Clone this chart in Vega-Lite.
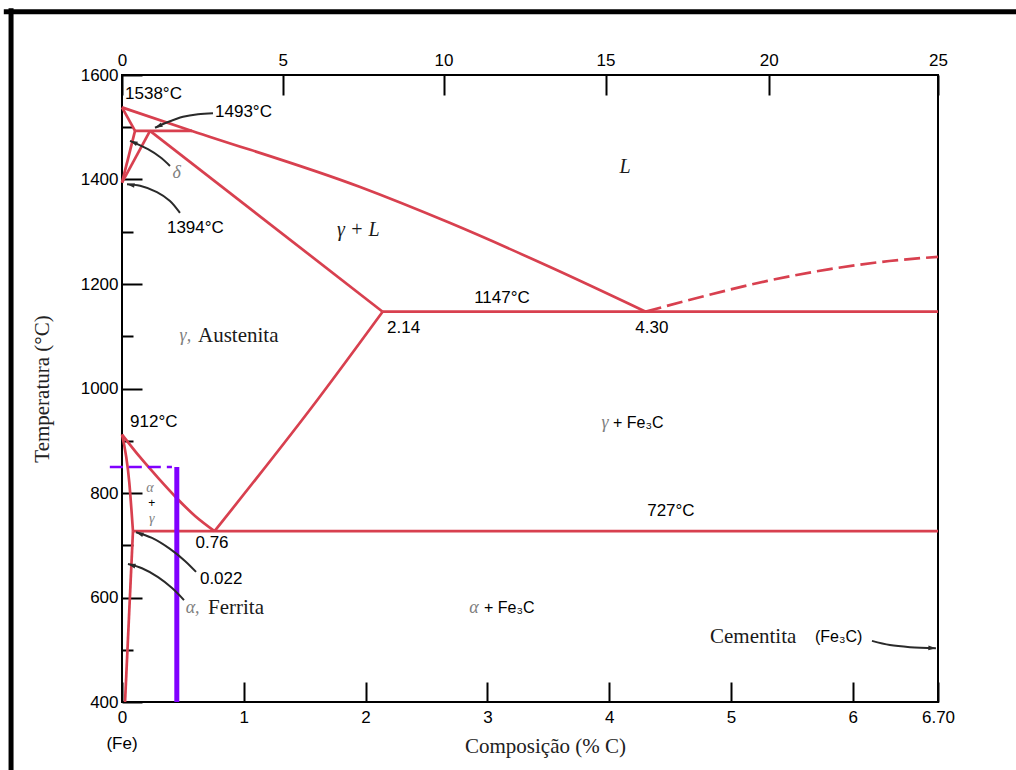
{
  "$schema": "https://vega.github.io/schema/vega-lite/v6.json",
  "width": 816,
  "height": 627,
  "autosize": {"type": "none"},
  "padding": {"left": 122, "top": 75, "right": 78, "bottom": 68},
  "background": "white",
  "config": {
    "view": {"stroke": "black", "strokeWidth": 2},
    "axis": {"grid": false, "domain": false, "tickColor": "black", "tickWidth": 2, "labelFont": "Liberation Sans", "labelFontSize": 17, "labelColor": "black", "labelFlush": false, "labelOverlap": false, "titleFont": "Liberation Serif", "titleFontSize": 21, "titleFontWeight": "normal", "titleColor": "#222"}
  },
  "datasets": {
    "boundaries": [
      {"seg": "liquidus", "i": 0, "x": 0, "T": 1538},
      {"seg": "liquidus", "i": 1, "x": 0.575, "T": 1493},
      {"seg": "liquidus", "i": 2, "x": 1.95, "T": 1386},
      {"seg": "liquidus", "i": 3, "x": 2.69, "T": 1317},
      {"seg": "liquidus", "i": 4, "x": 3.51, "T": 1233},
      {"seg": "liquidus", "i": 5, "x": 4.30, "T": 1147},
      {"seg": "delta_liq", "i": 0, "x": 0, "T": 1538},
      {"seg": "delta_liq", "i": 1, "x": 0.107, "T": 1493},
      {"seg": "delta_gamma", "i": 0, "x": 0, "T": 1394},
      {"seg": "delta_gamma", "i": 1, "x": 0.107, "T": 1493},
      {"seg": "gamma_delta", "i": 0, "x": 0, "T": 1394},
      {"seg": "gamma_delta", "i": 1, "x": 0.23, "T": 1493},
      {"seg": "peritectic", "i": 0, "x": 0.107, "T": 1493},
      {"seg": "peritectic", "i": 1, "x": 0.575, "T": 1493},
      {"seg": "solidus", "i": 0, "x": 0.23, "T": 1493},
      {"seg": "solidus", "i": 1, "x": 2.14, "T": 1147},
      {"seg": "acm", "i": 0, "x": 0.76, "T": 727},
      {"seg": "acm", "i": 1, "x": 1.61, "T": 980},
      {"seg": "acm", "i": 2, "x": 2.14, "T": 1147},
      {"seg": "a3", "i": 0, "x": 0, "T": 912},
      {"seg": "a3", "i": 1, "x": 0.15, "T": 868},
      {"seg": "a3", "i": 2, "x": 0.30, "T": 828},
      {"seg": "a3", "i": 3, "x": 0.45, "T": 790},
      {"seg": "a3", "i": 4, "x": 0.60, "T": 756},
      {"seg": "a3", "i": 5, "x": 0.76, "T": 727},
      {"seg": "alpha", "i": 0, "x": 0, "T": 912},
      {"seg": "alpha", "i": 1, "x": 0.06, "T": 820},
      {"seg": "alpha", "i": 2, "x": 0.09, "T": 727},
      {"seg": "solvus", "i": 0, "x": 0.025, "T": 400},
      {"seg": "solvus", "i": 1, "x": 0.09, "T": 727},
      {"seg": "eutectoid", "i": 0, "x": 0.09, "T": 727},
      {"seg": "eutectoid", "i": 1, "x": 6.70, "T": 727},
      {"seg": "eutectic", "i": 0, "x": 2.14, "T": 1147},
      {"seg": "eutectic", "i": 1, "x": 6.70, "T": 1147}
    ],
    "cementite_liquidus": [
      {"i": 0, "x": 4.30, "T": 1147},
      {"i": 1, "x": 4.8, "T": 1178},
      {"i": 2, "x": 5.3, "T": 1206},
      {"i": 3, "x": 5.8, "T": 1228},
      {"i": 4, "x": 6.3, "T": 1244},
      {"i": 5, "x": 6.70, "T": 1252}
    ],
    "alloy_vertical": [
      {"i": 0, "x": 0.45, "T": 400},
      {"i": 1, "x": 0.45, "T": 850}
    ],
    "alloy_temp": [
      {"i": 0, "x": -0.10, "T": 850},
      {"i": 1, "x": 0.41, "T": 850}
    ],
    "arrows": [
      {"arrow": "a1493", "i": 0, "x": 0.747, "T": 1527},
      {"arrow": "a1493", "i": 1, "x": 0.624, "T": 1525},
      {"arrow": "a1493", "i": 2, "x": 0.501, "T": 1520},
      {"arrow": "a1493", "i": 3, "x": 0.378, "T": 1510},
      {"arrow": "a1493", "i": 4, "x": 0.271, "T": 1499},
      {"arrow": "adelta", "i": 0, "x": 0.394, "T": 1426},
      {"arrow": "adelta", "i": 1, "x": 0.312, "T": 1443},
      {"arrow": "adelta", "i": 2, "x": 0.213, "T": 1458},
      {"arrow": "adelta", "i": 3, "x": 0.066, "T": 1474},
      {"arrow": "a1394", "i": 0, "x": 0.476, "T": 1336},
      {"arrow": "a1394", "i": 1, "x": 0.394, "T": 1359},
      {"arrow": "a1394", "i": 2, "x": 0.287, "T": 1376},
      {"arrow": "a1394", "i": 3, "x": 0.148, "T": 1388},
      {"arrow": "a1394", "i": 4, "x": 0.041, "T": 1391},
      {"arrow": "a0022", "i": 0, "x": 0.608, "T": 649},
      {"arrow": "a0022", "i": 1, "x": 0.517, "T": 670},
      {"arrow": "a0022", "i": 2, "x": 0.394, "T": 693},
      {"arrow": "a0022", "i": 3, "x": 0.246, "T": 714},
      {"arrow": "a0022", "i": 4, "x": 0.115, "T": 725},
      {"arrow": "aferrita", "i": 0, "x": 0.509, "T": 595},
      {"arrow": "aferrita", "i": 1, "x": 0.411, "T": 618},
      {"arrow": "aferrita", "i": 2, "x": 0.296, "T": 639},
      {"arrow": "aferrita", "i": 3, "x": 0.164, "T": 656},
      {"arrow": "aferrita", "i": 4, "x": 0.049, "T": 664},
      {"arrow": "acem", "i": 0, "x": 6.158, "T": 517},
      {"arrow": "acem", "i": 1, "x": 6.305, "T": 509},
      {"arrow": "acem", "i": 2, "x": 6.470, "T": 505},
      {"arrow": "acem", "i": 3, "x": 6.683, "T": 503}
    ],
    "heads": [
      {"arrow": "a1493", "x": 0.271, "T": 1499},
      {"arrow": "adelta", "x": 0.066, "T": 1474},
      {"arrow": "a1394", "x": 0.041, "T": 1391},
      {"arrow": "a0022", "x": 0.115, "T": 725},
      {"arrow": "aferrita", "x": 0.049, "T": 664},
      {"arrow": "acem", "x": 6.683, "T": 503}
    ],
    "frame": [
      {"side": "top", "i": 0, "x": -0.95, "T": 1721},
      {"side": "top", "i": 1, "x": 7.4, "T": 1721},
      {"side": "left", "i": 0, "x": -0.911, "T": 1723},
      {"side": "left", "i": 1, "x": -0.911, "T": 250}
    ],
    "labels": [
      {"role": "temp", "text": "1538°C", "x": 0.025, "T": 1564},
      {"role": "temp", "text": "1493°C", "x": 0.764, "T": 1529},
      {"role": "temp", "text": "1394°C", "x": 0.369, "T": 1308},
      {"role": "temp", "text": "912°C", "x": 0.066, "T": 935},
      {"role": "temp", "text": "2.14", "x": 2.176, "T": 1116},
      {"role": "temp", "text": "0.022", "x": 0.64, "T": 636},
      {"role": "point", "text": "1147°C", "x": 3.12, "T": 1174},
      {"role": "point", "text": "4.30", "x": 4.35, "T": 1116},
      {"role": "point", "text": "727°C", "x": 4.507, "T": 765},
      {"role": "point", "text": "0.76", "x": 0.739, "T": 705},
      {"role": "point", "text": "(Fe)", "x": 0, "T": 320},
      {"role": "compound", "text": "+ Fe₃C", "x": 4.031, "T": 934},
      {"role": "compound", "text": "+ Fe₃C", "x": 2.972, "T": 580},
      {"role": "compound", "text": "(Fe₃C)", "x": 5.69, "T": 524},
      {"role": "phase", "text": "Austenita", "x": 0.624, "T": 1100},
      {"role": "phase", "text": "Ferrita", "x": 0.706, "T": 580},
      {"role": "phase", "text": "Cementita", "x": 4.828, "T": 524},
      {"role": "greek", "text": "δ", "x": 0.449, "T": 1412},
      {"role": "greek", "text": "γ,", "x": 0.52, "T": 1100},
      {"role": "greek", "text": "α,", "x": 0.58, "T": 580},
      {"role": "greek", "text": "γ", "x": 3.966, "T": 934},
      {"role": "greek", "text": "α", "x": 2.89, "T": 580},
      {"role": "stack", "text": "α", "x": 0.23, "T": 809},
      {"role": "stack", "text": "γ", "x": 0.244, "T": 750},
      {"role": "plus", "text": "+", "x": 0.244, "T": 780},
      {"role": "liquid", "text": "L", "x": 4.13, "T": 1424},
      {"role": "liquid", "text": "γ + L", "x": 1.94, "T": 1303}
    ]
  },
  "layer": [
    {
      "data": {"values": [{"x": 0, "T": 400}]},
      "mark": {"type": "point", "opacity": 0},
      "encoding": {
        "x": {"field": "x", "type": "quantitative", "scale": {"domain": [0, 6.7], "nice": false, "zero": false},
          "axis": {"orient": "bottom", "values": [0, 1, 2, 3, 4, 5, 6, 6.7], "labelExpr": "datum.value == 6.7 ? '6.70' : format(datum.value, 'd')", "tickSize": -20, "labelPadding": 27, "title": "Composição (% C)", "titlePadding": 10, "titleX": 423}},
        "y": {"field": "T", "type": "quantitative", "scale": {"domain": [400, 1600], "nice": false, "zero": false},
          "axis": {"orient": "left", "values": [400, 600, 800, 1000, 1200, 1400, 1600], "format": "d", "tickSize": -20, "labelPadding": 24, "title": "Temperatura (°C)", "titlePadding": 28}}
      }
    },
    {
      "data": {"values": [{"x": 0, "T": 400}]},
      "mark": {"type": "point", "opacity": 0},
      "encoding": {
        "x": {"field": "x", "type": "quantitative", "scale": {"domain": [0, 6.7], "nice": false, "zero": false},
          "axis": {"orient": "top", "values": [0, 1.32, 2.64, 3.97, 5.31, 6.7], "labelExpr": "datum.value < 0.5 ? '0' : datum.value < 2 ? '5' : datum.value < 3 ? '10' : datum.value < 4.5 ? '15' : datum.value < 6 ? '20' : '25'", "tickSize": -20, "labelPadding": 26, "title": null}},
        "y": {"field": "T", "type": "quantitative", "scale": {"domain": [400, 1600], "nice": false, "zero": false},
          "axis": {"orient": "left", "values": [500, 700, 900, 1100, 1300, 1500], "tickSize": -11, "labels": false, "title": null}}
      }
    },
    {
      "encoding": {
        "x": {"field": "x", "type": "quantitative", "scale": {"domain": [0, 6.7], "nice": false, "zero": false}, "axis": null},
        "y": {"field": "T", "type": "quantitative", "scale": {"domain": [400, 1600], "nice": false, "zero": false}, "axis": null}
      },
      "layer": [
        {
          "data": {"name": "frame"},
          "mark": {"type": "line", "color": "black", "strokeWidth": 5, "strokeCap": "square"},
          "encoding": {"detail": {"field": "side"}, "order": {"field": "i"}}
        },
        {
          "data": {"name": "boundaries"},
          "mark": {"type": "line", "color": "#d8404f", "strokeWidth": 2.7, "interpolate": "monotone"},
          "encoding": {"detail": {"field": "seg"}, "order": {"field": "i"}}
        },
        {
          "data": {"name": "cementite_liquidus"},
          "mark": {"type": "line", "color": "#d8404f", "strokeWidth": 2.7, "interpolate": "monotone", "strokeDash": [16, 6]},
          "encoding": {"order": {"field": "i"}}
        },
        {
          "data": {"name": "alloy_vertical"},
          "mark": {"type": "line", "color": "#8000ff", "strokeWidth": 5},
          "encoding": {"order": {"field": "i"}}
        },
        {
          "data": {"name": "alloy_temp"},
          "mark": {"type": "line", "color": "#8000ff", "strokeWidth": 2.5, "strokeDash": [13, 6], "clip": false},
          "encoding": {"order": {"field": "i"}}
        },
        {
          "data": {"name": "arrows"},
          "mark": {"type": "line", "color": "#2a2a2a", "strokeWidth": 2, "interpolate": "catmull-rom"},
          "encoding": {"detail": {"field": "arrow"}, "order": {"field": "i"}}
        },
        {"data": {"name": "heads"}, "transform": [{"filter": "datum.arrow == 'a1493'"}], "mark": {"type": "point", "shape": "M0,0L0.5,1.6L-0.5,1.6Z", "filled": true, "color": "#2a2a2a", "opacity": 1, "size": 90, "angle": 245}, "encoding": {}},
        {"data": {"name": "heads"}, "transform": [{"filter": "datum.arrow == 'adelta'"}], "mark": {"type": "point", "shape": "M0,0L0.5,1.6L-0.5,1.6Z", "filled": true, "color": "#2a2a2a", "opacity": 1, "size": 90, "angle": 294}, "encoding": {}},
        {"data": {"name": "heads"}, "transform": [{"filter": "datum.arrow == 'a1394'"}], "mark": {"type": "point", "shape": "M0,0L0.5,1.6L-0.5,1.6Z", "filled": true, "color": "#2a2a2a", "opacity": 1, "size": 90, "angle": 280}, "encoding": {}},
        {"data": {"name": "heads"}, "transform": [{"filter": "datum.arrow == 'a0022'"}], "mark": {"type": "point", "shape": "M0,0L0.5,1.6L-0.5,1.6Z", "filled": true, "color": "#2a2a2a", "opacity": 1, "size": 90, "angle": 291}, "encoding": {}},
        {"data": {"name": "heads"}, "transform": [{"filter": "datum.arrow == 'aferrita'"}], "mark": {"type": "point", "shape": "M0,0L0.5,1.6L-0.5,1.6Z", "filled": true, "color": "#2a2a2a", "opacity": 1, "size": 90, "angle": 286}, "encoding": {}},
        {"data": {"name": "heads"}, "transform": [{"filter": "datum.arrow == 'acem'"}], "mark": {"type": "point", "shape": "M0,0L0.5,1.6L-0.5,1.6Z", "filled": true, "color": "#2a2a2a", "opacity": 1, "size": 90, "angle": 92}, "encoding": {}},
        {
          "data": {"name": "labels"},
          "transform": [{"filter": "datum.role == 'temp'"}],
          "mark": {"type": "text", "font": "Liberation Sans", "fontSize": 17, "align": "left", "baseline": "middle", "color": "black"},
          "encoding": {"text": {"field": "text"}}
        },
        {
          "data": {"name": "labels"},
          "transform": [{"filter": "datum.role == 'point'"}],
          "mark": {"type": "text", "font": "Liberation Sans", "fontSize": 17, "align": "center", "baseline": "middle", "color": "black"},
          "encoding": {"text": {"field": "text"}}
        },
        {
          "data": {"name": "labels"},
          "transform": [{"filter": "datum.role == 'compound'"}],
          "mark": {"type": "text", "font": "Liberation Sans", "fontSize": 16, "align": "left", "baseline": "middle", "color": "black"},
          "encoding": {"text": {"field": "text"}}
        },
        {
          "data": {"name": "labels"},
          "transform": [{"filter": "datum.role == 'phase'"}],
          "mark": {"type": "text", "font": "Liberation Serif", "fontSize": 21, "align": "left", "baseline": "middle", "color": "#1a1a1a"},
          "encoding": {"text": {"field": "text"}}
        },
        {
          "data": {"name": "labels"},
          "transform": [{"filter": "datum.role == 'greek'"}],
          "mark": {"type": "text", "font": "Liberation Serif", "fontSize": 18, "fontStyle": "italic", "align": "center", "baseline": "middle", "color": "#808080"},
          "encoding": {"text": {"field": "text"}}
        },
        {
          "data": {"name": "labels"},
          "transform": [{"filter": "datum.role == 'stack'"}],
          "mark": {"type": "text", "font": "Liberation Serif", "fontSize": 14, "fontStyle": "italic", "align": "center", "baseline": "middle", "color": "#808080"},
          "encoding": {"text": {"field": "text"}}
        },
        {
          "data": {"name": "labels"},
          "transform": [{"filter": "datum.role == 'plus'"}],
          "mark": {"type": "text", "font": "Liberation Sans", "fontSize": 12, "align": "center", "baseline": "middle", "color": "black"},
          "encoding": {"text": {"field": "text"}}
        },
        {
          "data": {"name": "labels"},
          "transform": [{"filter": "datum.role == 'liquid'"}],
          "mark": {"type": "text", "font": "Liberation Serif", "fontSize": 20, "fontStyle": "italic", "align": "center", "baseline": "middle", "color": "#1a1a1a"},
          "encoding": {"text": {"field": "text"}}
        }
      ]
    }
  ],
  "resolve": {"scale": {"x": "independent", "y": "independent"}, "axis": {"x": "independent", "y": "independent"}}
}
